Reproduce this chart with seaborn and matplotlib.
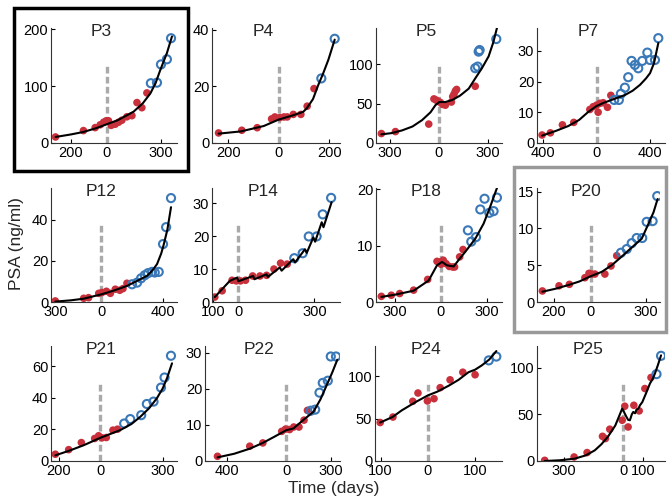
import numpy as np
import matplotlib
matplotlib.use("Agg")
import matplotlib.pyplot as plt
from matplotlib.patches import Rectangle
from matplotlib.ticker import FuncFormatter
import seaborn as sns

# ==============================================================================
# Data (time in days, PSA in ng/ml)
# pre = red filled dots, post = blue open circles, fit = black model curve
# ==============================================================================
p3_pre_t = [-285, -130, -65, -37, -18, -4, 9, 24, 46, 65, 83, 111, 139, 167, 194, 222]
p3_pre_psa = [10.6, 21.8, 27, 32, 36.5, 39, 39, 31, 33, 36.5, 40, 46, 48, 71, 62, 88]
p3_post_t = [244, 278, 300, 333, 356]
p3_post_psa = [105, 106, 138, 147, 184]
p3_fit_t = [-285, -200, -130, -60, 0, 60, 148, 200, 241, 270, 296, 333, 361]
p3_fit_psa = [10.6, 15, 19.4, 26, 33, 40, 55, 70, 87, 105, 128, 158, 187]

p4_pre_t = [-239, -147, -86, -29, -16, 4, 20, 33, 57, 87, 112, 139]
p4_pre_psa = [3.55, 4.5, 5.4, 8.5, 9.2, 9.0, 9.2, 9.2, 10.1, 10.1, 13, 19.2]
p4_post_t = [168, 221]
p4_post_psa = [22.8, 36.8]
p4_fit_t = [-239, -150, -60, 0, 50, 96, 110, 135, 156, 175, 196, 221]
p4_fit_psa = [3.3, 4.1, 6, 8.3, 9.6, 11, 12.2, 15.5, 20.5, 24.5, 29.4, 36.5]

p5_pre_t = [-351, -265, -61, -29, -16, -4, 10, 24, 41, 78, 86, 94, 102, 110, 224]
p5_pre_psa = [12, 14.5, 24, 56, 54.5, 53, 51.5, 49, 48, 52, 59, 62, 66, 68, 72]
p5_post_t = [224, 239, 245, 251, 353]
p5_post_psa = [95, 97, 116, 118, 132]
p5_fit_t = [-351, -290, -224, -160, -102, -50, -20, 4, 40, 82, 130, 184, 224, 265, 306, 335, 357]
p5_fit_psa = [11, 12.5, 16, 21, 29, 39, 48, 52, 52, 54.5, 60, 69, 82, 95, 110, 128, 146]

p7_pre_t = [-407, -345, -255, -170, -50, -25, 0, 25, 50, 12, 82, 107]
p7_pre_psa = [2.6, 3.3, 5.9, 6.7, 10.9, 11.8, 12.3, 12.9, 13.1, 10.0, 11.6, 15.5]
p7_post_t = [132, 167, 182, 212, 237, 262, 287, 312, 342, 380, 400, 437, 462]
p7_post_psa = [14, 14, 16, 18, 21.4, 26.7, 25.4, 24.3, 26.7, 29.4, 27, 27, 34.1]
p7_fit_t = [-407, -300, -212, -130, -62, 0, 50, 112, 212, 270, 325, 370, 400, 430, 462]
p7_fit_psa = [2.4, 4, 5.5, 7.5, 10.1, 12, 13, 14, 15.6, 17, 18.9, 21, 22.7, 26, 32.5]

p12_pre_t = [-300, -115, -83, -17, 4, 33, 59, 91, 120, 141, 167]
p12_pre_psa = [0.5, 1.8, 2.1, 4.2, 4.6, 5.2, 4.2, 6.2, 5.7, 6.5, 9.1]
p12_post_t = [200, 233, 259, 283, 304, 330, 348, 374, 402, 422, 454]
p12_post_psa = [8.6, 9.4, 11.5, 13, 14, 14.6, 14.3, 14.6, 28.1, 36.3, 50.4]
p12_fit_t = [-300, -200, -115, -50, 0, 80, 167, 240, 298, 335, 363, 390, 407, 430, 454]
p12_fit_psa = [0.2, 0.8, 1.6, 2.8, 3.7, 5.5, 7.8, 10.5, 12.7, 15.5, 18.4, 23.5, 28, 35, 46]

p14_pre_t = [-92, -63, -24, -7, 9, 29, 57, 86, 112, 141, 167, 193]
p14_pre_psa = [1.5, 3.4, 6.6, 6.4, 6.4, 6.6, 7.9, 7.9, 8.1, 10, 11.8, 11.5]
p14_post_t = [221, 254, 278, 309, 333, 366]
p14_post_psa = [13.3, 14.8, 19.9, 19.9, 26.6, 31.6]
p14_fit_t = [-92, -33, -4, 1, 59, 64, 112, 117, 164, 171, 217, 224, 263, 270, 296, 303, 329, 336, 368]
p14_fit_psa = [1.5, 6.4, 7.4, 6.3, 7.9, 6.9, 8.4, 7.6, 10.5, 9.5, 13, 12, 16, 14.9, 19.6, 18.3, 24.2, 22.7, 30.3]

p18_pre_t = [-390, -325, -270, -179, -87, -26, -11, 0, 15, 33, 54, 76, 89, 122, 144]
p18_pre_psa = [1.0, 1.2, 1.5, 2.1, 4.0, 7.2, 7.1, 6.7, 7.4, 6.8, 6.3, 6.2, 6.2, 8.0, 9.3]
p18_post_t = [176, 198, 229, 257, 285, 316, 344, 366]
p18_post_psa = [12.7, 10.7, 11.5, 16.4, 18.3, 15.8, 16.1, 18.5]
p18_fit_t = [-390, -300, -179, -81, -26, 7, 39, 83, 120, 159, 224, 279, 322, 366]
p18_fit_psa = [0.9, 1.3, 2.0, 3.8, 6.5, 7.1, 6.5, 6.3, 7.6, 8.9, 11.2, 13.9, 16.9, 20.2]

p20_pre_t = [-261, -171, -115, -31, -9, 5, 23, 77, 110, 141]
p20_pre_psa = [1.5, 2.2, 2.4, 3.3, 3.9, 3.8, 3.8, 3.8, 4.9, 6.3]
p20_post_t = [164, 195, 222, 249, 279, 303, 335, 360]
p20_post_psa = [6.7, 7.2, 8.0, 8.7, 8.7, 10.9, 11.0, 14.4]
p20_fit_t = [-261, -190, -121, -60, 0, 60, 114, 160, 204, 240, 276, 312, 340, 362]
p20_fit_psa = [1.4, 1.8, 2.3, 2.8, 3.5, 4.1, 5.0, 6.0, 7.0, 7.8, 8.6, 10.6, 12.2, 14]

p21_pre_t = [-216, -152, -91, -27, -8, 8, 29, 61, 83]
p21_pre_psa = [4.3, 7.2, 11.7, 14.3, 16, 14.7, 14.9, 19.6, 20.2]
p21_post_t = [115, 144, 197, 224, 256, 292, 309, 340]
p21_post_psa = [23.8, 26.6, 29.1, 36.2, 37.7, 46.6, 53, 66.8]
p21_fit_t = [-216, -150, -80, 0, 96, 150, 192, 235, 272, 300, 321, 345]
p21_fit_psa = [3.6, 6.5, 10, 14.7, 19.6, 23.5, 28, 33.5, 39.8, 46, 52.6, 62]

p22_pre_t = [-462, -245, -157, -30, -5, 23, 51, 86, 120, 143]
p22_pre_psa = [1.3, 4.1, 5.0, 8.2, 8.8, 8.7, 9.4, 9.4, 11.3, 14]
p22_post_t = [165, 195, 224, 246, 280, 300, 335]
p22_post_psa = [13.9, 14.2, 18.9, 21.6, 22.2, 28.9, 28.9]
p22_fit_t = [-462, -350, -245, -157, -80, 0, 49, 120, 183, 230, 273, 310, 344]
p22_fit_psa = [1.0, 2.0, 3.4, 5.0, 6.7, 8.5, 9.0, 11.5, 13.6, 17, 21, 24.5, 28]

p24_pre_t = [-101, -74, -32, -21, -1, 13, 26, 47, 74, 100]
p24_pre_psa = [45.5, 52, 70.6, 80.4, 71, 73.7, 86.7, 96, 105, 102]
p24_post_t = [129, 145]
p24_post_psa = [119, 123.5]
p24_fit_t = [-101, -75, -55, -25, 0, 20, 44, 65, 86, 100, 114, 130, 145]
p24_fit_psa = [45.5, 52, 60, 70, 77.6, 82, 89, 96, 105, 108, 113, 120, 130]

p25_pre_t = [-398, -249, -183, -105, -90, -68, -5, 8, 25, 54, 81, 110, 141]
p25_pre_psa = [0.7, 4.3, 9, 26.4, 24, 34, 43.6, 58.6, 36.4, 59.6, 53.6, 77.5, 89.3]
p25_post_t = [169, 192]
p25_post_psa = [92.9, 112.5]
p25_fit_t = [-398, -320, -246, -190, -144, -110, -76, -40, -5, 5, 17, 25, 34, 44, 51, 60,
             68, 77, 85, 97, 115, 136, 150, 161, 175, 192]
p25_fit_psa = [0, 0.8, 2.5, 6, 11.4, 18, 26.4, 38, 56, 52, 47, 44, 43.6, 50, 52.5, 51,
               55, 56, 59.6, 63, 72, 83, 88, 93.6, 102, 113]

# Axis ticks per panel
x_ticks = {
    "P3": [-200, 0, 300], "P4": [-200, 0, 200], "P5": [-300, 0, 300], "P7": [-400, 0, 400],
    "P12": [-300, 0, 400], "P14": [-100, 0, 300], "P18": [-300, 0, 300], "P20": [-200, 0, 300],
    "P21": [-200, 0, 300], "P22": [-400, 0, 300], "P24": [-100, 0, 100], "P25": [-300, 0, 100],
}
y_ticks = {
    "P3": [0, 100, 200], "P4": [0, 20, 40], "P5": [0, 50, 100], "P7": [0, 10, 20, 30],
    "P12": [0, 20, 40], "P14": [0, 10, 20, 30], "P18": [0, 10, 20], "P20": [0, 5, 10, 15],
    "P21": [0, 20, 40, 60], "P22": [0, 10, 20, 30], "P24": [0, 50, 100], "P25": [0, 50, 100],
}

# ==============================================================================
# Layout (pixel boxes: left, right, top, bottom) and axis limits
# ==============================================================================
W, H = 669, 500
layout = {
    "P3": (51, 177, 28, 143), "P4": (212, 340, 28, 143), "P5": (376, 502, 28, 143), "P7": (537, 665, 28, 143),
    "P12": (51, 177, 188, 302), "P14": (212, 340, 188, 302), "P18": (376, 502, 188, 302), "P20": (537, 660, 188, 302),
    "P21": (51, 177, 346, 461), "P22": (205, 340, 346, 461), "P24": (375, 502, 346, 461), "P25": (537, 665, 346, 461),
}
xlims = {
    "P3": (-310, 389), "P4": (-265, 242), "P5": (-384, 388), "P7": (-445, 512),
    "P12": (-328, 493), "P14": (-103, 401), "P18": (-425, 399), "P20": (-290, 375),
    "P21": (-237, 369), "P22": (-546, 362), "P24": (-112, 157), "P25": (-437, 212),
}
ylims = {
    "P3": 202, "P4": 40.6, "P5": 146, "P7": 37.4, "P12": 55.3, "P14": 34.6,
    "P18": 20.2, "P20": 15.5, "P21": 73, "P22": 31.8, "P24": 136, "P25": 123,
}

panels = [
    ("P3", p3_pre_t, p3_pre_psa, p3_post_t, p3_post_psa, p3_fit_t, p3_fit_psa),
    ("P4", p4_pre_t, p4_pre_psa, p4_post_t, p4_post_psa, p4_fit_t, p4_fit_psa),
    ("P5", p5_pre_t, p5_pre_psa, p5_post_t, p5_post_psa, p5_fit_t, p5_fit_psa),
    ("P7", p7_pre_t, p7_pre_psa, p7_post_t, p7_post_psa, p7_fit_t, p7_fit_psa),
    ("P12", p12_pre_t, p12_pre_psa, p12_post_t, p12_post_psa, p12_fit_t, p12_fit_psa),
    ("P14", p14_pre_t, p14_pre_psa, p14_post_t, p14_post_psa, p14_fit_t, p14_fit_psa),
    ("P18", p18_pre_t, p18_pre_psa, p18_post_t, p18_post_psa, p18_fit_t, p18_fit_psa),
    ("P20", p20_pre_t, p20_pre_psa, p20_post_t, p20_post_psa, p20_fit_t, p20_fit_psa),
    ("P21", p21_pre_t, p21_pre_psa, p21_post_t, p21_post_psa, p21_fit_t, p21_fit_psa),
    ("P22", p22_pre_t, p22_pre_psa, p22_post_t, p22_post_psa, p22_fit_t, p22_fit_psa),
    ("P24", p24_pre_t, p24_pre_psa, p24_post_t, p24_post_psa, p24_fit_t, p24_fit_psa),
    ("P25", p25_pre_t, p25_pre_psa, p25_post_t, p25_post_psa, p25_fit_t, p25_fit_psa),
]

RED = "#c8303c"
BLUE = "#3a78b8"
GREY = "#aaaaaa"

sns.set_style("ticks")
plt.rcParams["font.family"] = ["Liberation Sans", "DejaVu Sans"]

fig = plt.figure(figsize=(W / 100, H / 100), dpi=100)
abs_fmt = FuncFormatter(lambda v, _: f"{abs(int(round(v)))}")

for name, pre_t, pre_y, post_t, post_y, fit_t, fit_y in panels:
    l, r, t, b = layout[name]
    ax = fig.add_axes([l / W, 1 - b / H, (r - l) / W, (b - t) / H])

    ax.axvline(0, ymin=0, ymax=0.68, color=GREY, lw=2.4, ls=(0, (2, 1)), zorder=1)
    sns.scatterplot(x=pre_t, y=pre_y, ax=ax, color=RED, s=30, edgecolor="none", zorder=2)
    sns.scatterplot(x=post_t, y=post_y, ax=ax, marker="o", s=34, facecolor="none",
                    edgecolor=BLUE, linewidth=1.5, zorder=2)
    sns.lineplot(x=fit_t, y=fit_y, ax=ax, color="black", lw=1.5, sort=False,
                 estimator=None, zorder=3)

    ax.set_xlim(*xlims[name])
    ax.set_ylim(0, ylims[name])
    ax.set_xticks(x_ticks[name])
    ax.set_yticks(y_ticks[name])
    ax.xaxis.set_major_formatter(abs_fmt)
    ax.tick_params(direction="in", length=3, width=0.8, labelsize=10.5, pad=2, colors="black")
    for side in ["top", "right"]:
        ax.spines[side].set_visible(False)
    for side in ["left", "bottom"]:
        ax.spines[side].set_linewidth(0.8)
        ax.spines[side].set_color("#333333")
    ax.text(0.4, 0.97, name, transform=ax.transAxes, ha="center", va="center", fontsize=12.5)

# Highlight frames around P3 and P20
fig.patches.append(Rectangle((14.3 / W, 1 - 171.3 / H), (187.5 - 14.3) / W, (171.3 - 7.7) / H,
                             transform=fig.transFigure, fill=False, ec="black", lw=2.5))
fig.patches.append(Rectangle((513.7 / W, 1 - 332 / H), (666 - 513.7) / W, (332 - 167.5) / H,
                             transform=fig.transFigure, fill=False, ec="#999999", lw=2.5))

fig.text(16.7 / W, 1 - 244 / H, "PSA (ng/ml)", rotation=90, ha="center", va="center", fontsize=12.5)
fig.text(334 / W, 1 - 489 / H, "Time (days)", ha="center", va="center", fontsize=12.5)

fig.savefig("out.png", dpi=100)
